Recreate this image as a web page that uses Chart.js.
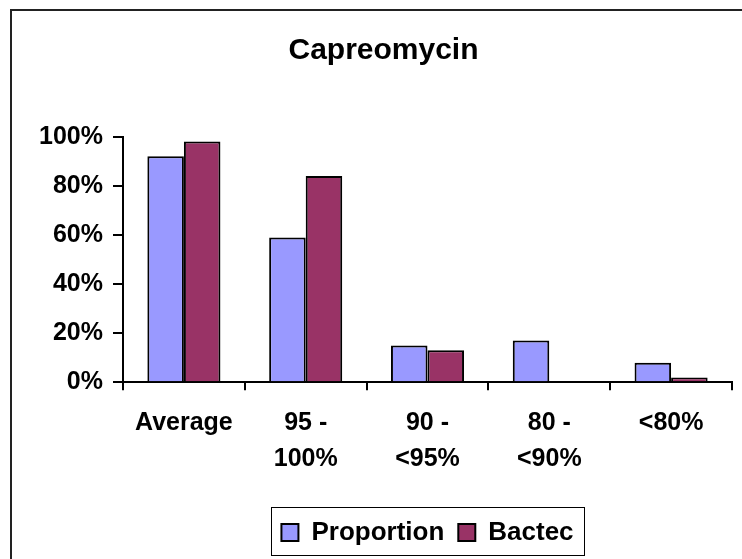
<!DOCTYPE html>
<html>
<head>
<meta charset="utf-8">
<title>Capreomycin</title>
<script src="https://cdn.jsdelivr.net/npm/chart.js@4/dist/chart.umd.min.js"></script>
<style>
  html, body { margin: 0; padding: 0; background: #fff; }
  #wrap { width: 742px; height: 559px; position: relative; }
</style>
</head>
<body>
<div id="wrap"><canvas id="chart" width="742" height="559"></canvas></div>
<script>
// Susceptibility agreement by band, in percent
const categories = ['Average', ['95 -', '100%'], ['90 -', '<95%'], ['80 -', '<90%'], '<80%'];
const proportion = [92, 59, 15, 17, 8];
const bactec = [98, 84, 13, 0, 2];
const yTicks = [0, 20, 40, 60, 80, 100];

const FONT = "'Liberation Sans', Arial, Helvetica, sans-serif";

// Outer frame of the chart (runs off the right and bottom edges)
const frame = {
  id: 'frame',
  beforeDraw(chart) {
    const c = chart.ctx;
    c.save();
    c.fillStyle = '#fff';
    c.fillRect(0, 0, chart.width, chart.height);
    c.strokeStyle = '#222';
    c.lineWidth = 2;
    c.strokeRect(11, 10, chart.width + 20, chart.height + 20);
    c.restore();
  }
};

// Thin box round the legend entries
const legendBox = {
  id: 'legendBox',
  afterDraw(chart) {
    const boxes = chart.legend && chart.legend.legendHitBoxes;
    if (!boxes || !boxes.length) return;
    const left = Math.min(...boxes.map(b => b.left));
    const right = Math.max(...boxes.map(b => b.left + b.width));
    const top = Math.min(...boxes.map(b => b.top));
    const bottom = Math.max(...boxes.map(b => b.top + b.height));
    const c = chart.ctx;
    c.save();
    c.strokeStyle = '#000';
    c.lineWidth = 1;
    c.strokeRect(Math.round(left - 10) + 0.5, Math.round(top - 12.5) + 0.5,
                 Math.round(right - left + 21), Math.round(bottom - top + 22));
    c.restore();
  }
};

new Chart(document.getElementById('chart'), {
  type: 'bar',
  data: {
    labels: categories,
    datasets: [
      {
        label: 'Proportion',
        data: proportion,
        backgroundColor: '#9999FF',
        borderColor: '#000',
        borderWidth: 2
      },
      {
        label: 'Bactec',
        data: bactec,
        backgroundColor: '#993366',
        borderColor: '#000',
        borderWidth: 2
      }
    ]
  },
  options: {
    responsive: false,
    animation: false,
    devicePixelRatio: 1,
    layout: { padding: { left: 35, right: 10, top: 0, bottom: 3.5 } },
    datasets: {
      bar: { categoryPercentage: 0.6, barPercentage: 1.0 }
    },
    scales: {
      x: {
        grid: {
          offset: true,
          drawOnChartArea: false,
          drawTicks: true,
          tickLength: 8,
          color: '#000',
          lineWidth: 2
        },
        border: { display: true, color: '#000', width: 2 },
        ticks: {
          color: '#000',
          padding: 15,
          maxRotation: 0,
          autoSkip: false,
          font: { family: FONT, size: 25, weight: 'bold', lineHeight: 1.44 }
        },
        afterFit(scale) { scale.height = 123.2; }
      },
      y: {
        min: 0,
        max: 100,
        afterBuildTicks(scale) { scale.ticks = yTicks.map(v => ({ value: v })); },
        grid: {
          drawOnChartArea: false,
          drawTicks: true,
          tickLength: 10,
          color: '#000',
          lineWidth: 2
        },
        border: { display: true, color: '#000', width: 2 },
        ticks: {
          color: '#000',
          padding: 10,
          font: { family: FONT, size: 25, weight: 'bold' },
          callback: v => v + '%'
        },
        afterFit(scale) { scale.width = 88; }
      }
    },
    plugins: {
      title: {
        display: true,
        text: 'Capreomycin',
        color: '#000',
        font: { family: FONT, size: 30, weight: 'bold', lineHeight: 1.2 },
        padding: { top: 32.7, bottom: 68 }
      },
      legend: {
        position: 'bottom',
        fullSize: false,
        labels: {
          color: '#000',
          boxWidth: 17,
          boxHeight: 17,
          padding: 14,
          font: { family: FONT, size: 26, weight: 'bold' }
        }
      },
      tooltip: { enabled: false }
    }
  },
  plugins: [frame, legendBox]
});
</script>
</body>
</html>
